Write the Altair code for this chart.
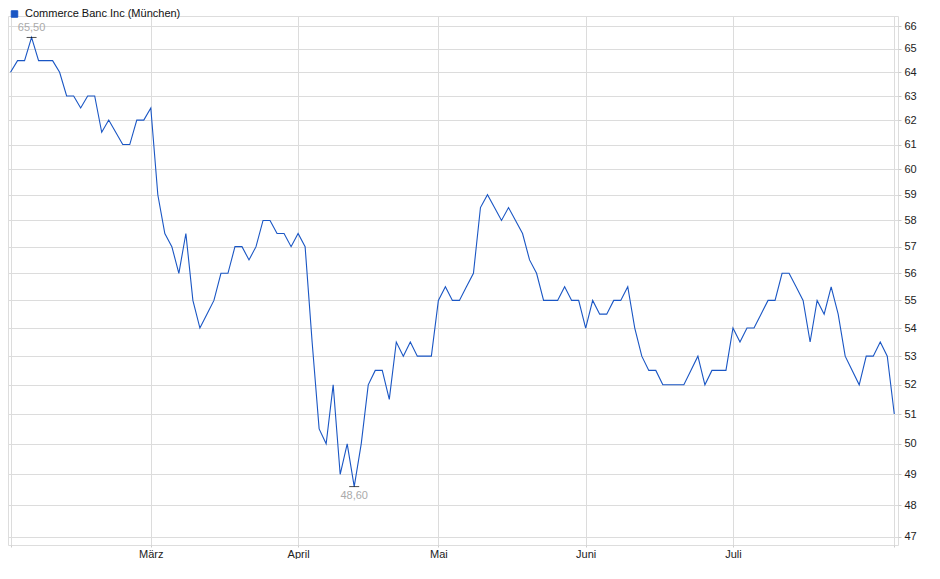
import altair as alt
import pandas as pd
import numpy as np

SERIES = "Commerce Banc Inc (München)"

# daily closing prices (trading-day sequence)
prices = [
    64.0, 64.5, 64.5, 65.5, 64.5, 64.5, 64.5, 64.0, 63.0, 63.0,
    62.5, 63.0, 63.0, 61.5, 62.0, 61.5, 61.0, 61.0, 62.0, 62.0,
    62.5, 59.0, 57.5, 57.0, 56.0, 57.5, 55.0, 54.0, 54.5, 55.0,
    56.0, 56.0, 57.0, 57.0, 56.5, 57.0, 58.0, 58.0, 57.5, 57.5,
    57.0, 57.5, 57.0, 53.5, 50.5, 50.0, 52.0, 49.0, 50.0, 48.6,
    50.0, 52.0, 52.5, 52.5, 51.5, 53.5, 53.0, 53.5, 53.0, 53.0,
    53.0, 55.0, 55.5, 55.0, 55.0, 55.5, 56.0, 58.5, 59.0, 58.5,
    58.0, 58.5, 58.0, 57.5, 56.5, 56.0, 55.0, 55.0, 55.0, 55.5,
    55.0, 55.0, 54.0, 55.0, 54.5, 54.5, 55.0, 55.0, 55.5, 54.0,
    53.0, 52.5, 52.5, 52.0, 52.0, 52.0, 52.0, 52.5, 53.0, 52.0,
    52.5, 52.5, 52.5, 54.0, 53.5, 54.0, 54.0, 54.5, 55.0, 55.0,
    56.0, 56.0, 55.5, 55.0, 53.5, 55.0, 54.5, 55.5, 54.5, 53.0,
    52.5, 52.0, 53.0, 53.0, 53.5, 53.0, 51.0,
]

# first trading day of each month (index into prices) and its label
month_idx = [20, 41, 61, 82, 103]
month_labels = ["März", "April", "Mai", "Juni", "Juli"]

y_ticks = list(range(47, 67))

FONT = "Liberation Sans"
LINE_BLUE = "#1a56c4"
GRID = "#dcdcdc"
FRAME = "#cccccc"

n = len(prices)
df = pd.DataFrame({"i": list(range(n)), "price": prices, "series": SERIES})

imax = int(np.argmax(prices))
imin = int(np.argmin(prices))


def de_fmt(v):
    return f"{v:.2f}".replace(".", ",")


ext = pd.DataFrame({
    "i": [imax, imin],
    "price": [prices[imax], prices[imin]],
    "label": [de_fmt(prices[imax]), de_fmt(prices[imin])],
    "kind": ["max", "min"],
})

grid_vals = [0] + month_idx + [n - 1]
label_expr = "".join(
    f"datum.value == {k} ? '{lab}' : " for k, lab in zip(month_idx, month_labels)
) + "''"

x_enc = alt.X(
    "i:Q",
    scale=alt.Scale(domain=[-0.36, n - 1 + 0.53], nice=False, zero=False),
    axis=alt.Axis(
        values=grid_vals,
        labelExpr=label_expr,
        grid=True,
        gridColor=GRID,
        domain=False,
        tickSize=2,
        tickColor=FRAME,
        labelFont=FONT,
        labelFontSize=11,
        labelColor="#222222",
        labelPadding=1,
        labelOverlap=False,
        labelFlush=False,
        title=None,
    ),
)

y_enc = alt.Y(
    "price:Q",
    scale=alt.Scale(type="log", domain=[46.75, 66.44], nice=False, zero=False),
    axis=alt.Axis(
        orient="right",
        values=y_ticks,
        format="d",
        grid=True,
        gridColor=GRID,
        domain=False,
        tickSize=3,
        tickColor=FRAME,
        labelFont=FONT,
        labelFontSize=11,
        labelColor="#222222",
        labelPadding=3,
        labelOverlap=False,
        labelFlush=False,
        title=None,
    ),
)

line = alt.Chart(df).mark_line(strokeWidth=1.1, interpolate="linear").encode(
    x=x_enc,
    y=y_enc,
    color=alt.Color(
        "series:N",
        scale=alt.Scale(range=[LINE_BLUE]),
        legend=alt.Legend(
            title=None,
            orient="none",
            legendX=1,
            legendY=-7.5,
            symbolType="square",
            symbolSize=42,
            symbolFillColor=LINE_BLUE,
            symbolStrokeWidth=1,
            labelFont=FONT,
            labelFontSize=11,
            labelColor="#111111",
            labelOffset=5,
            labelLimit=0,
            padding=0,
        ),
    ),
)

marks = alt.Chart(ext).mark_tick(
    orient="horizontal", size=10, thickness=1, color="black"
).encode(x=x_enc, y=y_enc)

text_max = alt.Chart(ext).transform_filter(alt.datum.kind == "max").mark_text(
    font=FONT, fontSize=11, color="#aaaaaa", dy=-9.5, baseline="middle", align="center"
).encode(x=x_enc, y=y_enc, text="label:N")

text_min = alt.Chart(ext).transform_filter(alt.datum.kind == "min").mark_text(
    font=FONT, fontSize=11, color="#aaaaaa", dy=9, baseline="middle", align="center"
).encode(x=x_enc, y=y_enc, text="label:N")

chart = alt.layer(line, marks, text_max, text_min).properties(
    width=890,
    height=529,
    autosize="none",
    padding={"left": 0, "top": 8, "right": 32, "bottom": 14},
).configure_view(stroke=FRAME, strokeWidth=1).configure(background="white")

chart.save("out.html", embed_options={"renderer": "svg", "actions": False})
